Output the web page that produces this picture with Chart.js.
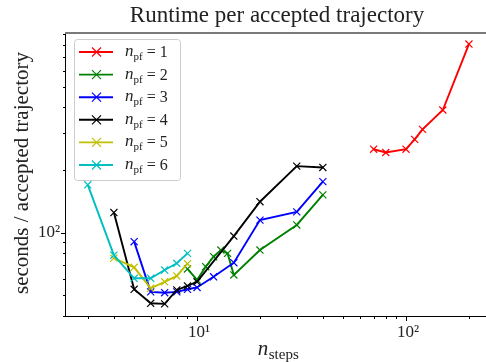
<!DOCTYPE html>
<html>
<head>
<meta charset="utf-8">
<script src="https://cdn.jsdelivr.net/npm/chart.js@4.4.1/dist/chart.umd.min.js"></script>
<style>
  html, body { margin:0; padding:0; background:#fff; }
  #wrap { width:486px; height:362px; position:relative; }
</style>
</head>
<body>
<div id="wrap"><canvas id="runtimeChart"></canvas></div>
<script>
// n_pf = 1 .. 6, runtime (seconds / accepted trajectory) vs n_steps
const PF_LABELS = ["1", "2", "3", "4", "5", "6"];
const PF_COLORS = ["#ff0000", "#008000", "#0000ff", "#000000", "#bfbf00", "#00bfbf"];

const STEPS_PF1 = [70, 80, 100, 110, 120, 150, 200];
const TIME_PF1  = [252, 243, 252, 281, 314, 389, 807];

const STEPS_PF2 = [9, 10, 11, 12, 13, 14, 15, 20, 30, 40];
const TIME_PF2  = [67, 59.3, 68.7, 76.7, 82.6, 79.6, 62.7, 82.6, 109, 152];

const STEPS_PF3 = [5, 6, 7, 8, 9, 10, 12, 15, 20, 30, 40];
const TIME_PF3  = [90.6, 52, 51.5, 52, 53.5, 54.6, 61.4, 71.8, 115, 126, 176];

const STEPS_PF4 = [4, 5, 6, 7, 8, 9, 10, 15, 20, 30, 40];
const TIME_PF4  = [125, 53.5, 45.8, 45.5, 53.1, 55.5, 58.1, 96.4, 141, 209, 206];

const STEPS_PF5 = [4, 5, 6, 7, 8, 9];
const TIME_PF5  = [75.5, 68.2, 54.1, 58.1, 62, 71];

const STEPS_PF6 = [3, 4, 5, 6, 7, 8, 9];
const TIME_PF6  = [170, 78, 60.4, 60.4, 66.2, 71.3, 79.6];

const X_TICK_VALUES = [10, 100];
const X_TICK_LABELS = ["10¹", "10²"];
const Y_TICK_VALUES = [100];
const Y_TICK_LABELS = ["10²"];
const X_RANGE = [2.36, 241.4];
const Y_RANGE = [39.8, 912];

const TITLE = "Runtime per accepted trajectory";
const Y_TITLE = "seconds / accepted trajectory";

const SERIF = '"Liberation Serif", "DejaVu Serif", serif';

const STEPS = [STEPS_PF1, STEPS_PF2, STEPS_PF3, STEPS_PF4, STEPS_PF5, STEPS_PF6];
const TIMES = [TIME_PF1, TIME_PF2, TIME_PF3, TIME_PF4, TIME_PF5, TIME_PF6];

const datasets = PF_LABELS.map((lab, i) => ({
  label: "n_pf = " + lab,
  data: STEPS[i].map((s, j) => ({ x: s, y: TIMES[i][j] })),
  borderColor: PF_COLORS[i],
  backgroundColor: PF_COLORS[i],
  borderWidth: 1.9,
  pointStyle: "crossRot",
  pointRadius: 5,
  pointBorderWidth: 1.2,
  pointHoverRadius: 5,
  tension: 0,
  order: PF_LABELS.length - i   // later series on top, like matplotlib
}));

function logTicks(min, max){
  const out = [];
  for (let e = Math.floor(Math.log10(min)); e <= Math.ceil(Math.log10(max)); e++){
    for (let m = 1; m <= 9; m++){
      const v = m * Math.pow(10, e);
      if (v >= min && v <= max) out.push({ v, major: m === 1 });
    }
  }
  return out;
}

function crossMark(ctx, cx, cy, r){
  ctx.beginPath();
  ctx.moveTo(cx - r, cy - r); ctx.lineTo(cx + r, cy + r);
  ctx.moveTo(cx - r, cy + r); ctx.lineTo(cx + r, cy - r);
  ctx.stroke();
}

const decorations = {
  id: "decorations",
  afterDatasetsDraw(chart){
    const { ctx, chartArea: a, scales: { x, y } } = chart;
    ctx.save();

    // spines
    ctx.strokeStyle = "#000"; ctx.lineWidth = 1;
    ctx.beginPath();
    ctx.moveTo(a.left - 0.5, a.top); ctx.lineTo(a.left - 0.5, a.bottom + 0.5);
    ctx.lineTo(a.right, a.bottom + 0.5);
    ctx.stroke();
    ctx.strokeStyle = "#7a7a7a"; ctx.lineWidth = 2;
    ctx.beginPath(); ctx.moveTo(a.left - 1, a.top); ctx.lineTo(a.right, a.top); ctx.stroke();

    // ticks, outward
    ctx.strokeStyle = "#000"; ctx.lineWidth = 1;
    ctx.beginPath();
    for (const t of logTicks(X_RANGE[0], X_RANGE[1])){
      const px = Math.round(x.getPixelForValue(t.v)) + 0.5;
      ctx.moveTo(px, a.bottom); ctx.lineTo(px, a.bottom + (t.major ? 5 : 3));
    }
    for (const t of logTicks(Y_RANGE[0], Y_RANGE[1])){
      const py = Math.round(y.getPixelForValue(t.v)) + 0.5;
      ctx.moveTo(a.left, py); ctx.lineTo(a.left - (t.major ? 5 : 3), py);
    }
    ctx.stroke();

    // tick labels
    ctx.fillStyle = "#222";
    ctx.font = "17px " + SERIF;
    ctx.textAlign = "center"; ctx.textBaseline = "alphabetic";
    X_TICK_VALUES.forEach((v, i) => ctx.fillText(X_TICK_LABELS[i], x.getPixelForValue(v) + 2, a.bottom + 21));
    ctx.textAlign = "right"; ctx.textBaseline = "middle";
    Y_TICK_VALUES.forEach((v, i) => ctx.fillText(Y_TICK_LABELS[i], a.left - 6, y.getPixelForValue(v)));

    // legend
    const lx = 74.5, ly = 39.5, lw = 106, lh = 141;
    ctx.fillStyle = "rgba(255,255,255,0.85)";
    ctx.strokeStyle = "#cccccc"; ctx.lineWidth = 1;
    ctx.beginPath(); ctx.roundRect(lx, ly, lw, lh, 3); ctx.fill(); ctx.stroke();
    PF_LABELS.forEach((lab, i) => {
      const ry = 52 + i * 22.6;
      ctx.strokeStyle = PF_COLORS[i];
      ctx.lineWidth = 1.9;
      ctx.beginPath(); ctx.moveTo(79, ry); ctx.lineTo(113, ry); ctx.stroke();
      ctx.lineWidth = 1.2;
      crossMark(ctx, 96.5, ry, 4.5);
      ctx.fillStyle = "#222";
      ctx.textBaseline = "alphabetic"; ctx.textAlign = "left";
      let tx = 125;
      ctx.font = "italic 17px " + SERIF;
      ctx.fillText("n", tx, ry + 4); tx += ctx.measureText("n").width;
      ctx.font = "11px " + SERIF;
      ctx.fillText("pf", tx, ry + 8); tx += ctx.measureText("pf").width;
      ctx.font = "16px " + SERIF;
      ctx.fillText("= " + lab, tx + 4, ry + 5);
    });

    // title and axis titles
    ctx.fillStyle = "#222";
    ctx.textAlign = "center"; ctx.textBaseline = "alphabetic";
    ctx.font = "23px " + SERIF;
    ctx.fillText(TITLE, 277, 22);

    ctx.save();
    ctx.translate(28, 173);
    ctx.rotate(-Math.PI / 2);
    ctx.font = "21px " + SERIF;
    ctx.fillText(Y_TITLE, 0, 0);
    ctx.restore();

    ctx.textAlign = "left";
    ctx.font = "italic 21px " + SERIF;
    const wn = ctx.measureText("n").width;
    ctx.font = "15px " + SERIF;
    const ws = ctx.measureText("steps").width;
    let sx = 278 - (wn + ws) / 2;
    ctx.font = "italic 21px " + SERIF;
    ctx.fillText("n", sx, 355);
    ctx.font = "15px " + SERIF;
    ctx.fillText("steps", sx + wn + 0.5, 359);

    ctx.restore();
  }
};

new Chart(document.getElementById("runtimeChart"), {
  type: "line",
  data: { datasets },
  options: {
    responsive: true,
    maintainAspectRatio: false,
    animation: false,
    layout: { autoPadding: false, padding: { top: 33, right: 0, bottom: 0, left: 0 } },
    plugins: { legend: { display: false }, tooltip: { enabled: false }, title: { display: false } },
    scales: {
      x: {
        type: "logarithmic",
        min: X_RANGE[0], max: X_RANGE[1],
        grid: { display: false, drawTicks: false },
        border: { display: false },
        ticks: { display: false },
        afterFit: (s) => { s.height = 46; s.paddingLeft = 0; s.paddingRight = 0; }
      },
      y: {
        type: "logarithmic",
        min: Y_RANGE[0], max: Y_RANGE[1],
        grid: { display: false, drawTicks: false },
        border: { display: false },
        ticks: { display: false },
        afterFit: (s) => { s.width = 66; s.paddingTop = 0; s.paddingBottom = 0; }
      }
    }
  },
  plugins: [decorations]
});
</script>
</body>
</html>
